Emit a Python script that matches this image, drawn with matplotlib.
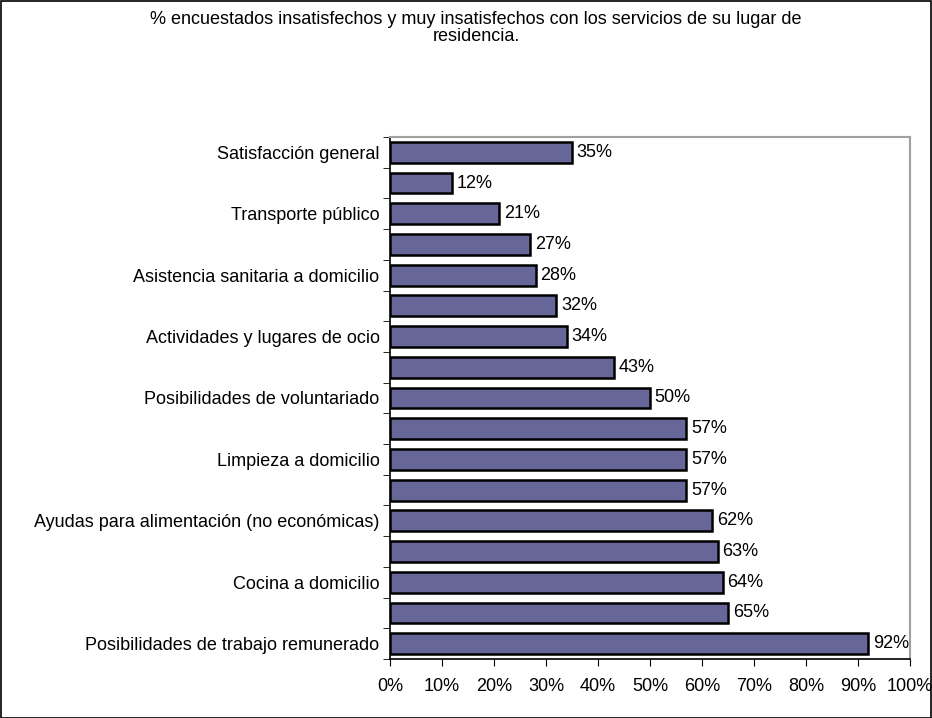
import matplotlib
matplotlib.use("Agg")
import matplotlib.pyplot as plt
from matplotlib.ticker import FixedLocator, PercentFormatter
from matplotlib.patches import Rectangle

plt.rcParams['font.family'] = ['Liberation Sans', 'DejaVu Sans']

categories = [
    "Satisfacción general", "", "Transporte público", "",
    "Asistencia sanitaria a domicilio", "", "Actividades y lugares de ocio", "",
    "Posibilidades de voluntariado", "", "Limpieza a domicilio", "",
    "Ayudas para alimentación (no económicas)", "", "Cocina a domicilio", "",
    "Posibilidades de trabajo remunerado",
]
values = [35, 12, 21, 27, 28, 32, 34, 43, 50, 57, 57, 57, 62, 63, 64, 65, 92]
xticks = [0, 10, 20, 30, 40, 50, 60, 70, 80, 90, 100]
title = "% encuestados insatisfechos y muy insatisfechos con los servicios de su lugar de\nresidencia."

FS = 13
W, H = 932, 718
fig = plt.figure(figsize=(W / 100, H / 100), dpi=100)
ax = fig.add_axes([390 / W, 1 - 659 / H, (910 - 390) / W, (659 - 137) / H])

n = len(values)
ypos = list(range(n))
ax.barh(ypos, values, height=0.68, color="#666699", edgecolor="black", linewidth=1.8)
ax.set_ylim(n - 0.5, -0.5)
ax.set_xlim(0, 100)

for y, v in zip(ypos, values):
    ax.text(v + 0.9, y, f"{v}%", va="center", ha="left", fontsize=FS)

ax.set_yticks(ypos)
ax.set_yticklabels(categories, fontsize=FS)
ax.tick_params(axis="y", which="major", length=0, pad=7.5)
ax.yaxis.set_minor_locator(FixedLocator([i - 0.5 for i in range(n + 1)]))
ax.tick_params(axis="y", which="minor", length=5, direction="out")

ax.set_xticks(xticks)
ax.xaxis.set_major_formatter(PercentFormatter(decimals=0))
ax.tick_params(axis="x", labelsize=FS, length=5, direction="out", pad=9)

for s in ["top", "right"]:
    ax.spines[s].set_color("#a0a0a0")
    ax.spines[s].set_linewidth(1.5)
for s in ["left", "bottom"]:
    ax.spines[s].set_color("black")
    ax.spines[s].set_linewidth(1.2)

fig.text(476 / W, 1 - 28 / H, title, ha="center", va="center", fontsize=FS, linespacing=1.0)

fig.patches.append(Rectangle((0.5 / W, 0.5 / H), (W - 1.5) / W, (H - 1.5) / H,
                             transform=fig.transFigure, fill=False,
                             edgecolor="black", linewidth=1.2))

fig.savefig("out.png", dpi=100)
